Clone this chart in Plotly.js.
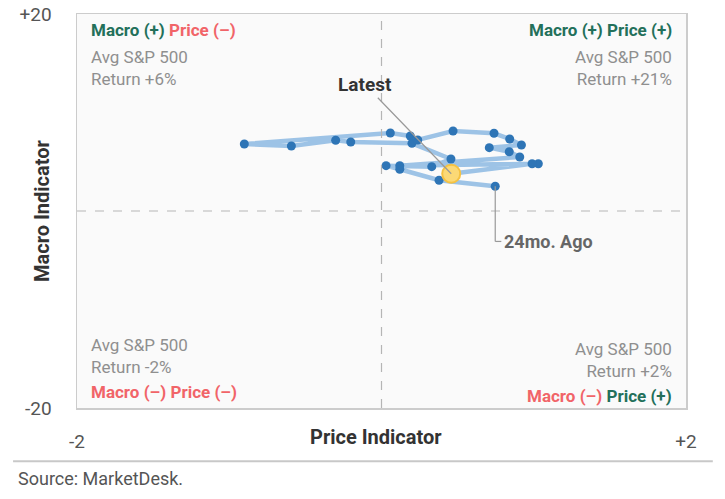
<!DOCTYPE html>
<html>
<head>
<meta charset="utf-8">
<script src="https://cdn.plot.ly/plotly-3.0.1.min.js"></script>
<style>
  body { margin: 0; background: #fff; }
  #chart { width: 725px; height: 499px; }
</style>
</head>
<body>
<div id="chart"></div>
<script>
// monthly path, 24mo ago -> latest
var priceInd = [0.747, 0.378, 0.120, 0.030, 0.330, 0.456, 0.200, -0.202, -0.301, -0.592, -0.901,
                0.058, 0.189, 0.238, 0.470, 0.739, 0.842, 0.919, 0.708, 0.839, 0.908,
                0.120, 1.030, 0.989, 0.458];
var macroInd = [2.51, 3.12, 4.24, 4.60, 4.50, 5.28, 6.87, 7.01, 7.18, 6.60, 6.80,
                7.92, 7.61, 7.21, 8.12, 7.89, 7.31, 6.70, 6.43, 6.02, 5.48,
                4.60, 4.80, 4.80, 3.78];
var xTicks = [-2, 2];
var xTickText = ['-2', '+2'];
var yTicks = [-20, 20];
var yTickText = ['-20', '+20'];

var GREEN = '#23705a';
var RED = '#f16468';
var GREY = '#8f8f8f';
var FONT = 'Roboto, Arial, sans-serif';

var n = priceInd.length;
var last = n - 1;

var pathTrace =
{
    x: priceInd,
    y: macroInd,
    mode: 'lines+markers',
    type: 'scatter',
    line: {color: '#9dc3e6', width: 4.5},
    marker: {color: '#2e75b6', size: 9},
    hoverinfo: 'skip'
};
var latestTrace =
{
    x: [priceInd[last]],
    y: [macroInd[last]],
    mode: 'markers',
    type: 'scatter',
    marker: {color: '#fbd976', size: 18, line: {color: '#f5c242', width: 2}},
    hoverinfo: 'skip'
};

function quad(x, y, xa, ya, html)
{
    return {xref: 'paper', yref: 'paper', x: x, y: y, xanchor: xa, yanchor: ya,
            text: html, showarrow: false, align: xa,
            font: {family: FONT, size: 17, color: GREY}};
}
function b(t, c) { return '<span style="color:' + c + '"><b>' + t + '</b></span>'; }

var annotations =
[
    quad(0.02, 0.99, 'left', 'top', b('Macro (+)', GREEN) + ' ' + b('Price (–)', RED)),
    quad(0.02, 0.922, 'left', 'top', 'Avg S&P 500<br>Return +6%'),
    quad(0.98, 0.99, 'right', 'top', b('Macro (+) Price (+)', GREEN)),
    quad(0.98, 0.922, 'right', 'top', 'Avg S&P 500<br>Return +21%'),
    quad(0.02, 0.19, 'left', 'top', 'Avg S&P 500<br>Return -2%'),
    quad(0.02, 0.07, 'left', 'top', b('Macro (–) Price (–)', RED)),
    quad(0.98, 0.18, 'right', 'top', 'Avg S&P 500<br>Return +2%'),
    quad(0.98, 0.062, 'right', 'top', b('Macro (–)', RED) + ' ' + b('Price (+)', GREEN)),
    {
        x: priceInd[last], y: macroInd[last], xref: 'x', yref: 'y',
        text: '<b>Latest</b>', showarrow: true, arrowhead: 0, arrowwidth: 1.2,
        arrowcolor: '#999', ax: -86, ay: -89, xanchor: 'center',
        font: {family: FONT, size: 19, color: '#333'}
    },
    {
        x: priceInd[0], y: macroInd[0], xref: 'x', yref: 'y',
        text: '<b>24mo. Ago</b>', showarrow: false, xanchor: 'left', yanchor: 'middle',
        xshift: 7, yshift: -55,
        font: {family: FONT, size: 18, color: '#666'}
    },
    {
        xref: 'paper', yref: 'paper', x: 0.491, y: -0.074, yanchor: 'middle',
        text: '<b>Price Indicator</b>', showarrow: false,
        font: {family: FONT, size: 20, color: '#333'}
    },
    {
        xref: 'paper', yref: 'paper', x: -0.0575, y: 0.5, xanchor: 'center',
        text: '<b>Macro Indicator</b>', showarrow: false, textangle: -90,
        font: {family: FONT, size: 20, color: '#333'}
    },
    {
        xref: 'paper', yref: 'paper', x: -0.1, y: -0.178, xanchor: 'left', yanchor: 'middle',
        text: 'Source: MarketDesk.', showarrow: false,
        font: {family: FONT, size: 18, color: '#555'}
    }
];

var shapes =
[
    {type: 'line', xref: 'x', yref: 'paper', x0: 0, x1: 0, y0: 0, y1: 1,
     line: {color: '#b5b5b5', width: 1.2, dash: 'dash'}},
    {type: 'line', xref: 'paper', yref: 'y', x0: 0, x1: 1, y0: 0, y1: 0,
     line: {color: '#b5b5b5', width: 1.2, dash: 'dash'}},
    // leader for 24mo ago
    {type: 'line', xref: 'x', yref: 'y', x0: priceInd[0], x1: priceInd[0],
     y0: macroInd[0], y1: macroInd[0] - 5.6, line: {color: '#999', width: 1.2}},
    {type: 'line', xref: 'x', yref: 'y', x0: priceInd[0], x1: priceInd[0] + 0.04,
     y0: macroInd[0] - 5.6, y1: macroInd[0] - 5.6, line: {color: '#999', width: 1.2}},
    // rule above source
    {type: 'line', xref: 'paper', yref: 'paper', x0: -0.105, x1: 1.044, y0: -0.135, y1: -0.135,
     line: {color: '#c8c8c8', width: 2}}
];

var layout =
{
    width: 725,
    height: 499,
    margin: {l: 77, r: 39, t: 14, b: 91},
    paper_bgcolor: '#ffffff',
    plot_bgcolor: '#fafafa',
    showlegend: false,
    font: {family: FONT, color: '#555'},
    xaxis: {range: [-2, 2], tickvals: xTicks, ticktext: xTickText, showgrid: false,
            zeroline: false, showline: true, mirror: true, linecolor: '#cccccc', linewidth: 1.5,
            ticks: '', ticklabelstandoff: 16, tickfont: {size: 19, color: '#555'}, fixedrange: true},
    yaxis: {range: [-20, 20], tickvals: yTicks, ticktext: yTickText, showgrid: false,
            zeroline: false, showline: true, mirror: true, linecolor: '#cccccc', linewidth: 1.5,
            ticks: '', ticklabelstandoff: 20, tickfont: {size: 19, color: '#555'}, fixedrange: true},
    annotations: annotations,
    shapes: shapes
};

Plotly.newPlot('chart', [pathTrace, latestTrace], layout, {displayModeBar: false, staticPlot: true});
</script>
</body>
</html>
